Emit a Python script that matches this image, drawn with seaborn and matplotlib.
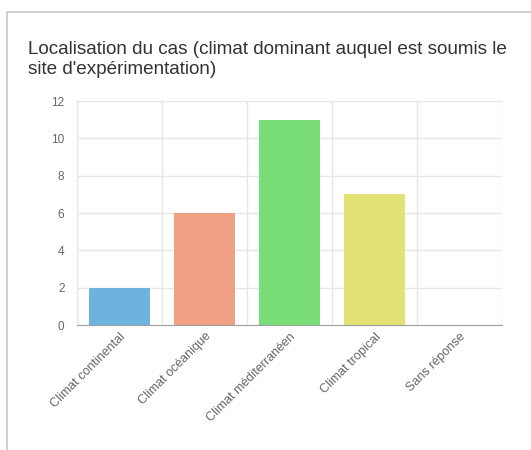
import pandas as pd
import seaborn as sns
import matplotlib.pyplot as plt
from matplotlib.patches import Rectangle

# data
categories = ['Climat continental', 'Climat océanique', 'Climat méditerranéen',
              'Climat tropical', 'Sans réponse']
counts = [2, 6, 11, 7, 0]
bar_colors = ['#6db3df', '#f0a083', '#79de77', '#e2e374', '#c9cbcf']
y_ticks = [0, 2, 4, 6, 8, 10, 12]

sns.set_style('white')
plt.rcParams['font.family'] = ['Liberation Sans', 'DejaVu Sans']

df = pd.DataFrame({'climat': categories, 'n': counts})

fig = plt.figure(figsize=(5.31, 4.5), dpi=100)
ax = fig.add_axes([77 / 531, 1 - 325 / 450, 425 / 531, 224 / 450])

sns.barplot(data=df, x='climat', y='n', hue='climat', palette=bar_colors,
            legend=False, width=0.72, saturation=1, linewidth=0, ax=ax)

ax.set_ylim(0, 12)
ax.set_xlim(-0.5, 4.5)
ax.set_yticks(y_ticks)
ax.set_xlabel('')
ax.set_ylabel('')

# grid: horizontal at each tick, vertical at category boundaries
ax.set_xticks([i - 0.5 for i in range(6)], minor=True)
ax.grid(True, axis='y', color='#e6e6e6', linewidth=1)
ax.grid(True, axis='x', which='minor', color='#e6e6e6', linewidth=1)
ax.set_axisbelow(True)

ax.tick_params(axis='x', which='major', length=0, pad=4)
ax.tick_params(axis='x', which='minor', length=7, color='#e6e6e6', width=1)
ax.tick_params(axis='y', length=6, color='#e6e6e6', width=1, pad=3,
               labelsize=8.5, labelcolor='#666666')
plt.setp(ax.get_xticklabels(), rotation=45, ha='right', va='top',
         rotation_mode='anchor', fontsize=9, color='#666666')

for side in ['top', 'right']:
    ax.spines[side].set_visible(False)
ax.spines['left'].set_color('#e6e6e6')
ax.spines['bottom'].set_color('#a0a0a0')

# card border (left and top)
fig.patches.append(Rectangle((7 / 531, -0.1), 1.2, 1 - 12 / 450 + 0.1,
                             transform=fig.transFigure, fill=False,
                             edgecolor='#c8c8c8', linewidth=1.2))

fig.text(28 / 531, 1 - 41 / 450,
         "Localisation du cas (climat dominant auquel est soumis le\nsite d'expérimentation)",
         fontsize=13.6, color='#333333', va='top', ha='left', linespacing=1.2)

fig.savefig('out.png', dpi=100)
